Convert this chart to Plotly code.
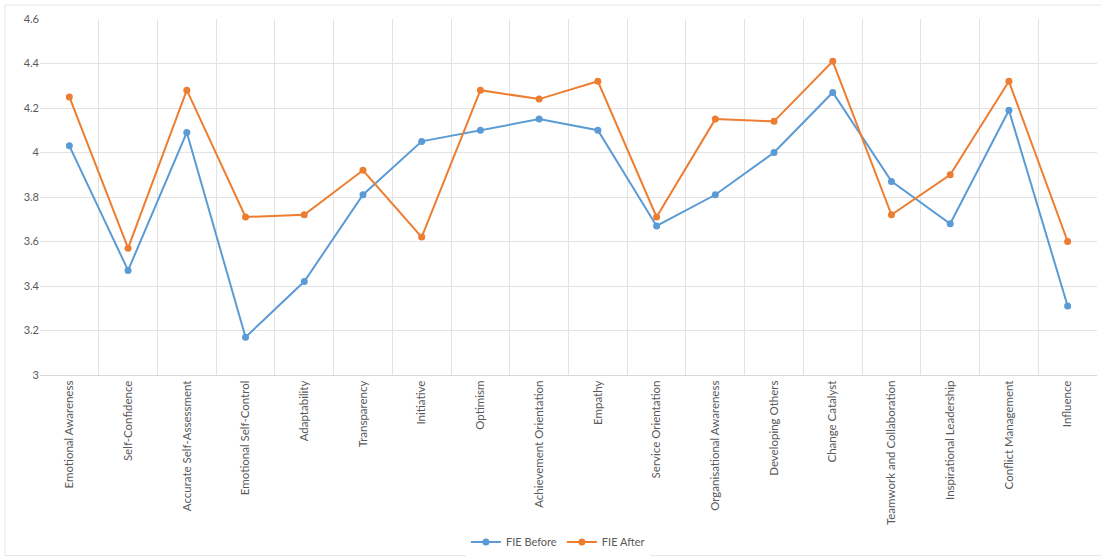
import plotly.graph_objects as go

categories = [
    "Emotional Awareness", "Self-Confidence", "Accurate Self-Assessment",
    "Emotional Self-Control", "Adaptability", "Transparency", "Initiative",
    "Optimism", "Achievement Orientation", "Empathy", "Service Orientation",
    "Organisational Awareness", "Developing Others", "Change Catalyst",
    "Teamwork and Collaboration", "Inspirational Leadership",
    "Conflict Management", "Influence",
]
fie_before = [4.03, 3.47, 4.09, 3.17, 3.42, 3.81, 4.05, 4.10, 4.15, 4.10,
              3.67, 3.81, 4.00, 4.27, 3.87, 3.68, 4.19, 3.31]
fie_after = [4.25, 3.57, 4.28, 3.71, 3.72, 3.92, 3.62, 4.28, 4.24, 4.32,
             3.71, 4.15, 4.14, 4.41, 3.72, 3.90, 4.32, 3.60]
y_ticks = [3, 3.2, 3.4, 3.6, 3.8, 4, 4.2, 4.4, 4.6]

BLUE = "#5B9BD5"
ORANGE = "#ED7D31"
TEXT = "#595959"
GRID = "#E3E3E3"

fig = go.Figure()
fig.add_trace(go.Scatter(
    x=categories, y=fie_before, name="FIE Before", mode="lines+markers",
    line=dict(color=BLUE, width=2), marker=dict(color=BLUE, size=7),
))
fig.add_trace(go.Scatter(
    x=categories, y=fie_after, name="FIE After", mode="lines+markers",
    line=dict(color=ORANGE, width=2), marker=dict(color=ORANGE, size=7),
))

# faint chart-area frame around the whole figure
fig.add_shape(type="rect", xref="paper", yref="paper",
              x0=-0.0331, x1=1.01, y0=-0.507, y1=1.039,
              line=dict(color="#E6E6E6", width=1), layer="below")

fig.update_layout(
    width=1101, height=559,
    margin=dict(l=40, r=4, t=19, b=183),
    paper_bgcolor="white", plot_bgcolor="white",
    font=dict(family="Lato, Open Sans, sans-serif", color=TEXT, size=11),
    showlegend=True,
    legend=dict(orientation="h", x=0.49, xanchor="center", y=-0.465,
                yanchor="middle", font=dict(size=11, color=TEXT),
                itemwidth=30),
    xaxis=dict(
        type="category", tickson="boundaries", showgrid=True,
        gridcolor=GRID, gridwidth=1, tickangle=-90, ticks="",
        showline=True, linecolor="#D9D9D9", linewidth=1,
        tickfont=dict(size=11.5, color=TEXT), range=[-0.5, 17.5],
    ),
    yaxis=dict(
        range=[3, 4.6], tickvals=y_ticks,
        ticktext=[f"{v:g}" for v in y_ticks],
        showgrid=True, gridcolor=GRID, gridwidth=1, zeroline=False,
        showline=False, ticks="", tickfont=dict(size=11, color=TEXT),
    ),
)

fig.write_html("out.html")
